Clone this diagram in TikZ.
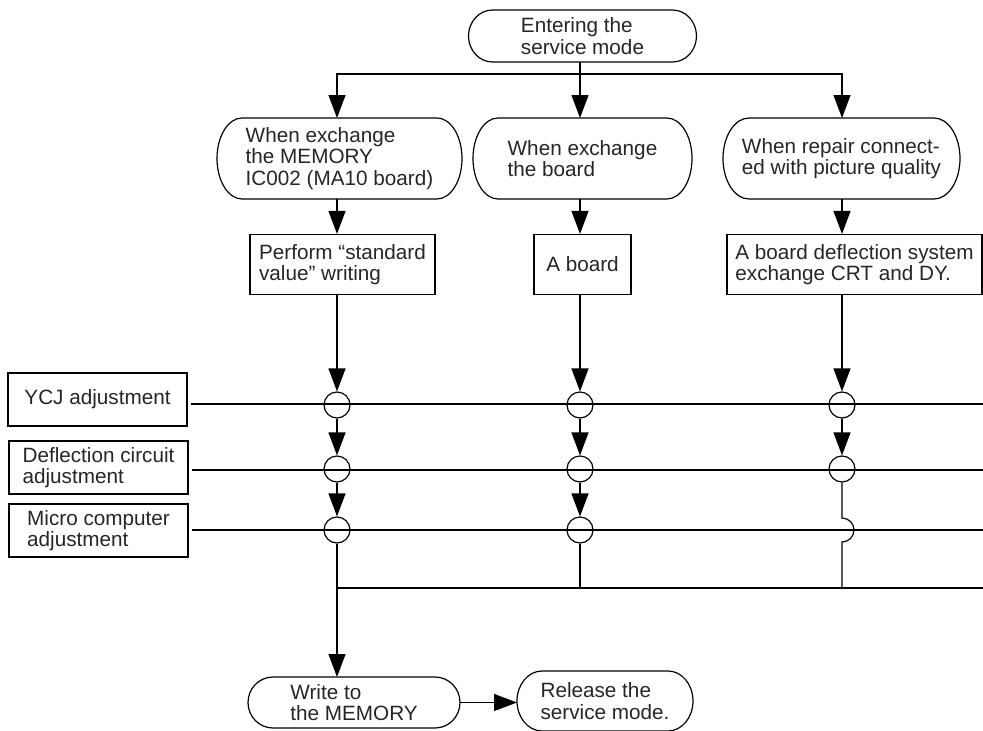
\documentclass[tikz,border=0pt]{standalone}
\usepackage{fontspec}
\setmainfont{Liberation Sans}
\usetikzlibrary{arrows.meta}

% outline of a pill round a node: node, x radius, y radius
\newcommand{\pilloutline}[3]{%
  \draw ([xshift=#2]#1.north west) -- ([xshift=-#2]#1.north east)
    arc[start angle=90, end angle=-90, x radius=#2, y radius=#3]
    -- ([xshift=#2]#1.south west)
    arc[start angle=270, end angle=90, x radius=#2, y radius=#3] -- cycle;}

\begin{document}
\begin{tikzpicture}[x=1pt, y=-1pt, line width=1.2pt,
  every node/.style={font=\fontsize{20.7}{21.7}\selectfont, text=black!85},
  pill/.style={align=left, inner sep=0pt, outer sep=0pt},
  box/.style={draw, align=left, inner sep=0pt},
  hub/.style={draw, circle, minimum size=26pt, inner sep=0pt},
  arr/.style={-{Triangle[length=23pt,width=17pt]}}]

\useasboundingbox (0,0) rectangle (983,731);

% Start
\node[pill, minimum width=228pt, minimum height=52pt] (enter) at (582.5,36) {Entering the\\service mode};
\pilloutline{enter}{24pt}{26pt}

% Three cases
\node[pill, minimum width=245pt, minimum height=81pt] (pmem) at (339.5,158.5) {When exchange\\the MEMORY\\IC002 (MA10 board)};
\node[pill, minimum width=219pt, minimum height=81pt] (pboard) at (582.5,158.5) {When exchange\\the board};
\node[pill, minimum width=237pt, minimum height=81pt] (pcrt) at (841.5,158.5) {When repair connect-\\ed with picture quality};
\pilloutline{pmem}{25pt}{40.5pt}
\pilloutline{pboard}{25pt}{40.5pt}
\pilloutline{pcrt}{26pt}{40.5pt}

% What is exchanged
\node[box, minimum width=185pt, minimum height=60pt] (bstd) at (342.5,264.5) {Perform ``standard\\value'' writing};
\node[box, minimum width=97pt, minimum height=60pt] (bboard) at (582.5,264.5) {A board};
\node[box, minimum width=255pt, minimum height=60pt] (bcrt) at (854.5,264.5) {A board deflection system\\exchange CRT and DY.};

% Adjustment rows
\node[box, minimum width=179pt, minimum height=53pt] (ycj) at (97.5,399.5) {YCJ adjustment};
\node[box, minimum width=179pt, minimum height=53pt] (defl) at (98.5,467.5) {Deflection circuit\\adjustment};
\node[box, minimum width=179pt, minimum height=53pt] (micro) at (98.5,530.5) {Micro computer\\adjustment};

% Hubs
\node[hub] (ycjL) at (337,405) {};
\node[hub] (ycjM) at (580,405) {};
\node[hub] (ycjR) at (842,405) {};
\node[hub] (defL) at (337,469) {};
\node[hub] (defM) at (580,469) {};
\node[hub] (defR) at (842,469) {};
\node[hub] (micL) at (337,530) {};
\node[hub] (micM) at (580,530) {};
\coordinate (micR) at (842,530);

% End
\node[pill, minimum width=212pt, minimum height=51pt] (write) at (354,702.5) {Write to\\the MEMORY};
\node[pill, minimum width=176pt, minimum height=60pt] (release) at (605,701) {Release the\\service mode.};
\pilloutline{write}{25pt}{25.5pt}
\pilloutline{release}{25pt}{30pt}

% Fork below start
\coordinate (fork) at (580,74);
\draw (enter.south -| fork) -- (fork);
\draw[arr] (fork) -| (pmem.north -| ycjL);
\draw[arr] (fork) -- (pboard.north -| fork);
\draw[arr] (fork) -| (pcrt.north -| ycjR);

% Case to box
\draw[arr] (pmem.south -| ycjL) -- (bstd.north -| ycjL);
\draw[arr] (pboard.south -| ycjM) -- (bboard.north -| ycjM);
\draw[arr] (pcrt.south -| ycjR) -- (bcrt.north -| ycjR);

% Box to first hub
\draw[arr] (bstd.south -| ycjL) -- (ycjL);
\draw[arr] (bboard.south -| ycjM) -- (ycjM);
\draw[arr] (bcrt.south -| ycjR) -- (ycjR);

% Row lines
\coordinate (ycjE) at (983,404);
\coordinate (defE) at (983,470);
\coordinate (micE) at (983,530);
\draw[shorten <=3pt] (ycj.east |- ycjE) -- (ycjE);
\draw[shorten <=3pt] (defl.east |- defE) -- (defE);
\draw[shorten <=3pt] (micro.east |- micE) -- (micE);

% Hub to hub
\draw[arr] (ycjL) -- (defL);
\draw[arr] (defL) -- (micL);
\draw[arr] (ycjM) -- (defM);
\draw[arr] (defM) -- (micM);
\draw[arr] (ycjR) -- (defR);

% Collecting line
\coordinate (bus) at (337,588);
\coordinate (busE) at (983,588);
\draw (bus) -- (busE);
\draw (micM) -- (micM |- bus);
\draw (defR) -- ([yshift=12pt]micR) arc[start angle=90, end angle=-90, radius=12pt] -- (micR |- bus);

% To the end
\draw[arr] (micL) -- (write.north -| micL);
\draw[arr] (write.east) -- (write.east -| release.west);

\end{tikzpicture}
\end{document}
